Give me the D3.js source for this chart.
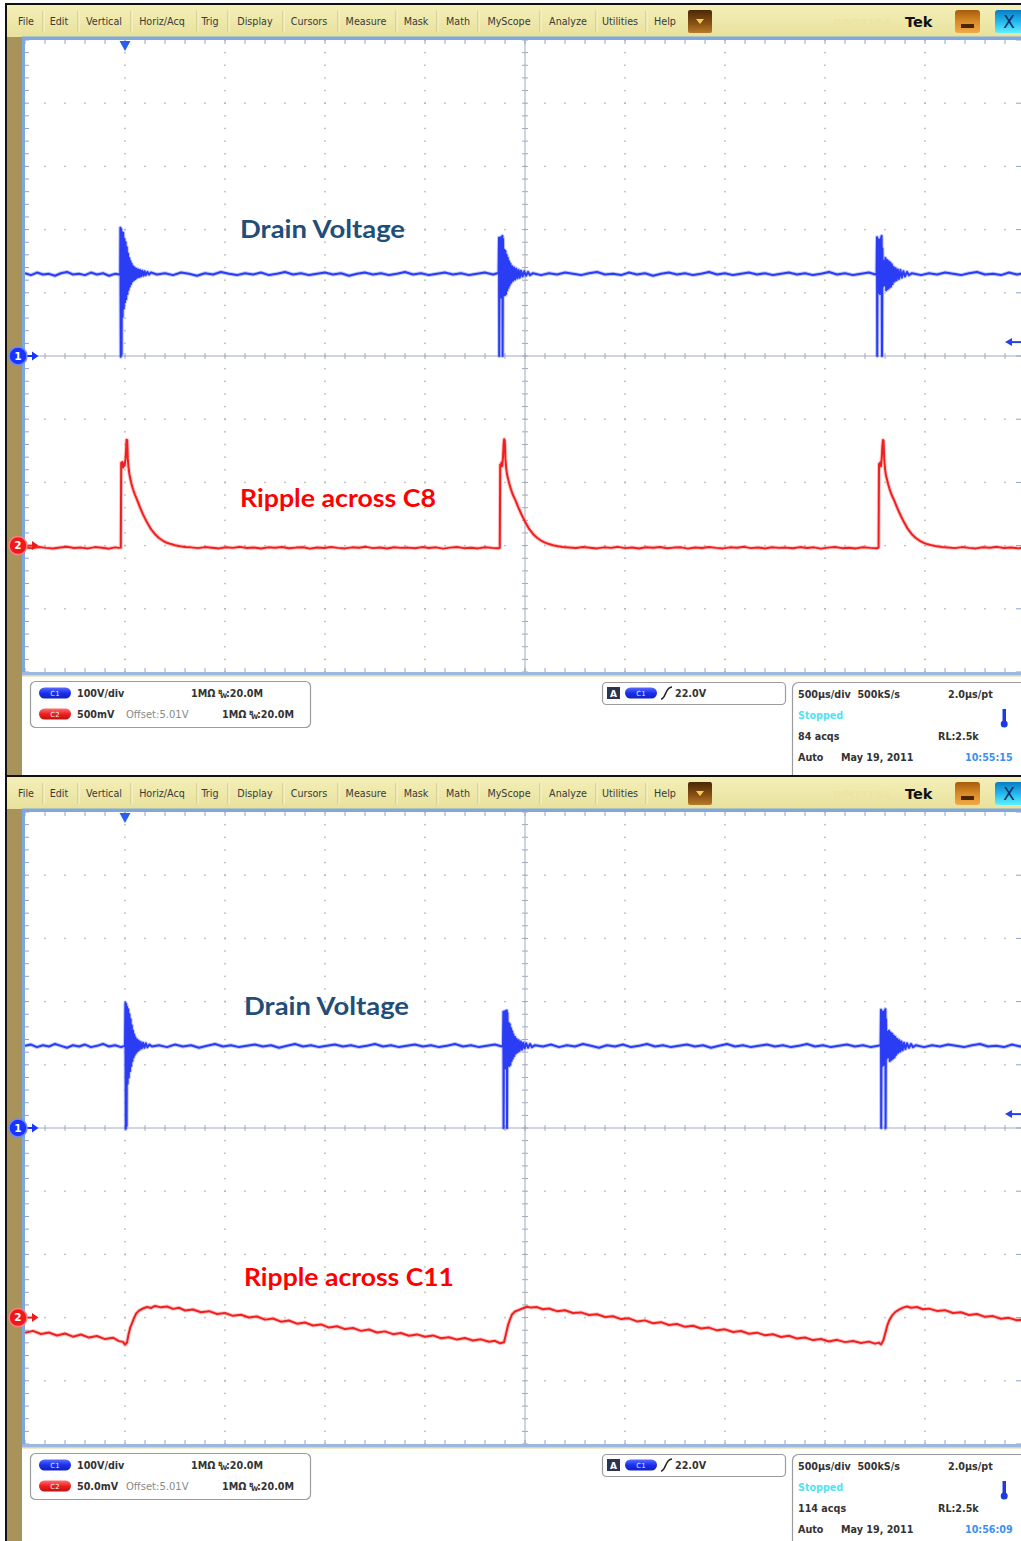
<!DOCTYPE html>
<html><head><meta charset="utf-8">
<script src="https://cdn.jsdelivr.net/npm/d3@7"></script>
<style>html,body{margin:0;padding:0;background:#fff;overflow:hidden}svg{display:block}</style>
</head><body>
<script>
// ---------------- DATA ----------------
const menuItems = ["File","Edit","Vertical","Horiz/Acq","Trig","Display","Cursors","Measure","Mask","Math","MyScope","Analyze","Utilities","Help"];
const timeDomain = [0, 5000];          // µs, 10 div x 500 µs/div
const timeMajorStep = 500, timeMinorStep = 100;
const trigLevelV = 22.0;               // trigger level, volts (C1)
const trigTimeUs = 500;                // trigger position

// Top screen, C1 drain voltage (t µs, V)
const c1Top = [[0,131],[30,128],[60,132],[90,129],[120,130],[150,127],[180,131],[210,133],[240,129],[270,130],[300,128],[330,132],[360,129],[390,131],[420,127],[450,130],[470,129],
[476,131],[477,203],[479,-1],[481,201],[483,2],[485,196],[488,62],[491,195],[494,75],[497,185],[500,85],[503,180],[506,90],[509,172],[512,98],[515,162],[518,105],[521,155],[524,110],[527,150],[530,114],[533,146],[536,118],[540,142],[544,120],[548,140],[552,122],[556,138],[560,124],[565,137],[570,125],[575,136],[580,126],[586,135],[592,127],[598,134],[604,128],[612,133],[620,129],[630,132],
[660,129],[700,131],[740,128],[780,132],[820,130],[860,127],[900,131],[940,129],[980,133],[1020,130],[1060,128],[1100,131],[1140,129],[1180,132],[1220,128],[1260,130],[1300,133],[1340,129],[1380,131],[1420,128],[1460,130],[1500,132],[1540,129],[1580,131],[1620,127],[1660,130],[1700,132],[1740,129],[1780,131],[1820,128],[1860,130],[1900,133],[1940,129],[1980,131],[2020,128],[2060,130],[2100,132],[2140,129],[2180,131],[2220,128],[2260,130],[2300,132],[2340,129],[2362,131],
[2368,131],[2370,187],[2371,0],[2373,185],[2376,95],[2379,188],[2382,92],[2385,186],[2387,190],[2388,0],[2390,185],[2393,100],[2396,168],[2399,96],[2402,166],[2405,98],[2408,160],[2411,104],[2414,155],[2417,108],[2420,150],[2423,112],[2427,146],[2431,116],[2435,142],[2440,119],[2445,140],[2450,121],[2456,138],[2462,123],[2468,136],[2474,124],[2480,135],[2488,126],[2496,134],[2505,127],[2515,133],[2525,128],[2540,131],
[2580,128],[2620,131],[2660,129],[2700,132],[2740,130],[2780,128],[2820,131],[2860,133],[2900,129],[2940,130],[2980,128],[3020,132],[3060,129],[3100,131],[3140,127],[3180,130],[3220,132],[3260,129],[3300,131],[3340,128],[3380,130],[3420,133],[3460,129],[3500,131],[3540,128],[3580,130],[3620,132],[3660,129],[3700,131],[3740,128],[3780,130],[3820,132],[3860,129],[3900,131],[3940,128],[3980,130],[4020,133],[4060,129],[4100,131],[4140,128],[4180,130],[4220,132],[4252,129],
[4258,131],[4260,188],[4261,0],[4263,186],[4267,100],[4271,184],[4275,98],[4279,185],[4283,190],[4285,0],[4287,170],[4290,110],[4294,150],[4298,112],[4302,155],[4306,104],[4310,152],[4314,106],[4318,150],[4322,108],[4326,148],[4330,110],[4334,145],[4338,114],[4343,141],[4348,118],[4353,139],[4358,120],[4364,137],[4370,122],[4377,136],[4384,124],[4392,134],[4400,126],[4410,133],[4420,128],[4435,131],
[4480,128],[4520,131],[4560,129],[4600,132],[4640,130],[4680,128],[4720,131],[4760,133],[4800,129],[4840,130],[4880,128],[4920,132],[4960,129],[5000,131]];

// Top screen, C2 ripple across C8 (t µs, mV relative to 5.01 V offset)
const c2Top = [[0,-14],[35,-20],[70,-11],[105,-18],[140,-23],[175,-15],[210,-9],[245,-19],[280,-16],[315,-22],[350,-12],[385,-17],[420,-24],[450,-14],[470,-18],[479,-16],
[481,655],[484,630],[487,662],[490,618],[494,650],[498,632],[503,690],[506,780],[508,838],[511,832],[514,690],[518,612],[522,565],[526,535],[532,492],[540,446],[550,402],[560,364],[575,302],[590,247],[610,184],[630,130],[650,90],[670,60],[690,38],[710,22],[730,12],[750,3],[775,-5],[800,-11],[830,-14],
[865,-20],[900,-12],[935,-17],[970,-22],[1005,-13],[1040,-18],[1075,-10],[1110,-19],[1145,-15],[1180,-23],[1215,-14],[1250,-17],[1285,-11],[1320,-21],[1355,-16],[1390,-13],[1425,-24],[1460,-15],[1495,-19],[1530,-12],[1565,-18],[1600,-22],[1635,-14],[1670,-17],[1705,-10],[1740,-20],[1775,-15],[1810,-23],[1845,-13],[1880,-18],[1915,-16],[1950,-21],[1985,-12],[2020,-19],[2055,-14],[2090,-24],[2125,-16],[2160,-11],[2195,-20],[2230,-17],[2265,-22],[2300,-13],[2335,-18],[2365,-21],[2374,-17],
[2376,640],[2379,622],[2382,655],[2386,630],[2390,700],[2393,800],[2396,842],[2399,830],[2402,690],[2406,612],[2410,566],[2415,530],[2422,488],[2430,444],[2440,400],[2452,360],[2466,305],[2482,248],[2500,190],[2520,134],[2540,92],[2560,62],[2580,40],[2600,24],[2620,12],[2640,3],[2665,-5],[2690,-11],[2720,-15],
[2755,-19],[2790,-12],[2825,-17],[2860,-22],[2895,-14],[2930,-18],[2965,-10],[3000,-20],[3035,-15],[3070,-23],[3105,-13],[3140,-17],[3175,-11],[3210,-21],[3245,-16],[3280,-14],[3315,-24],[3350,-15],[3385,-19],[3420,-12],[3455,-18],[3490,-22],[3525,-14],[3560,-17],[3595,-10],[3630,-20],[3665,-15],[3700,-23],[3735,-13],[3770,-18],[3805,-16],[3840,-21],[3875,-12],[3910,-19],[3945,-14],[3980,-24],[4015,-16],[4050,-11],[4085,-20],[4120,-17],[4155,-22],[4190,-13],[4225,-18],[4260,-21],[4268,-15],
[4270,645],[4273,625],[4276,658],[4280,628],[4284,700],[4287,790],[4290,836],[4293,828],[4296,688],[4300,610],[4304,563],[4309,528],[4316,486],[4324,442],[4334,398],[4346,358],[4360,302],[4376,246],[4394,188],[4414,132],[4434,90],[4454,60],[4474,38],[4494,22],[4514,10],[4534,2],[4560,-6],[4585,-11],[4615,-15],
[4650,-20],[4685,-12],[4720,-18],[4755,-22],[4790,-13],[4825,-17],[4860,-10],[4895,-19],[4930,-15],[4965,-22],[5000,-14]];

// Bottom screen, C1 drain voltage (t µs, V)
const c1Bot = [[0,130],[30,132],[60,128],[90,131],[120,129],[150,133],[180,130],[210,127],[240,131],[270,129],[300,132],[330,128],[360,130],[390,133],[420,129],[450,131],[480,128],[498,130],
[500,131],[502,198],[504,-1],[506,196],[508,3],[510,192],[513,70],[516,188],[519,80],[522,180],[525,90],[528,172],[531,98],[534,162],[537,106],[540,154],[543,112],[546,148],[549,116],[552,143],[556,119],[560,140],[564,122],[568,138],[573,124],[578,136],[584,126],[590,135],[597,127],[604,134],[612,128],[622,132],[635,129],
[670,131],[710,128],[750,132],[790,129],[830,131],[870,127],[910,130],[950,133],[990,129],[1030,131],[1070,128],[1110,130],[1150,132],[1190,129],[1230,131],[1270,127],[1310,130],[1350,133],[1390,129],[1430,131],[1470,128],[1510,130],[1550,132],[1590,129],[1630,131],[1670,128],[1710,130],[1750,133],[1790,129],[1830,131],[1870,128],[1910,130],[1950,132],[1990,129],[2030,131],[2070,128],[2110,130],[2150,133],[2190,129],[2230,131],[2270,128],[2310,130],[2350,132],[2385,129],
[2390,131],[2392,184],[2393,0],[2395,182],[2398,96],[2401,185],[2404,94],[2407,183],[2409,186],[2410,0],[2412,182],[2415,102],[2418,166],[2421,98],[2424,164],[2427,100],[2430,158],[2433,106],[2436,153],[2439,110],[2442,148],[2446,114],[2450,144],[2454,118],[2458,141],[2463,120],[2468,139],[2473,122],[2479,137],[2485,124],[2491,135],[2498,126],[2506,134],[2515,127],[2525,133],[2535,128],[2550,131],
[2590,129],[2630,132],[2670,128],[2710,131],[2750,129],[2790,133],[2830,130],[2870,127],[2910,131],[2950,129],[2990,132],[3030,128],[3070,130],[3110,133],[3150,129],[3190,131],[3230,128],[3270,130],[3310,132],[3350,129],[3390,131],[3430,127],[3470,130],[3510,133],[3550,129],[3590,131],[3630,128],[3670,130],[3710,132],[3750,129],[3790,131],[3830,128],[3870,130],[3910,133],[3950,129],[3990,131],[4030,128],[4070,130],[4110,132],[4150,129],[4190,131],[4230,128],[4265,130],
[4278,131],[4280,187],[4281,0],[4283,185],[4287,98],[4291,184],[4295,100],[4299,186],[4302,188],[4303,0],[4305,172],[4308,110],[4312,152],[4316,112],[4320,154],[4324,106],[4328,151],[4332,108],[4336,149],[4340,110],[4344,146],[4348,112],[4352,144],[4356,116],[4361,141],[4366,119],[4371,139],[4376,121],[4382,137],[4388,123],[4395,135],[4402,125],[4410,134],[4420,127],[4430,133],[4440,128],[4455,131],
[4495,128],[4535,131],[4575,129],[4615,132],[4655,130],[4695,128],[4735,131],[4775,133],[4815,129],[4855,130],[4895,128],[4935,132],[4975,129],[5000,131]];

// Bottom screen, C2 ripple across C11 (t µs, mV relative to 5.01 V offset)
const c2Bot = [[0,-12],[40,-10.5],[80,-13],[120,-11.8],[160,-14.2],[200,-12.6],[240,-15.1],[280,-13.4],[320,-15.8],[360,-14.6],[400,-17],[440,-15.9],[470,-18.6],[490,-19.2],[500,-21.5],[510,-19.8],[518,-13],[526,-8],[535,-4.5],[545,-0.5],[555,3],[570,5.5],[590,7.2],[610,8.4],[630,7.6],[650,9.2],[680,8.1],[710,8.8],[740,6.9],[770,7.8],[800,5.6],[840,6.4],[880,4.2],[920,5.1],[960,2.9],[1000,3.6],[1040,1.4],[1080,2.2],[1120,0.1],[1160,0.9],[1200,-1.6],[1240,-0.7],[1280,-3.2],[1320,-2.3],[1360,-4.8],[1400,-3.9],[1440,-6.2],[1480,-5.4],[1520,-7.9],[1560,-6.8],[1600,-9.1],[1640,-8.2],[1680,-10.5],[1720,-9.4],[1760,-11.8],[1800,-10.9],[1840,-13.1],[1880,-12.2],[1920,-14.4],[1960,-13.3],[2000,-15.2],[2040,-14.1],[2080,-16.3],[2120,-15.5],[2160,-17.4],[2200,-16.2],[2240,-18.1],[2280,-17.2],[2320,-19.1],[2350,-18.4],[2375,-20.3],[2395,-19.5],[2405,-13],[2415,-6],[2425,-1.5],[2435,2.5],[2450,4.8],[2470,6.1],[2490,7.4],[2510,8.6],[2530,7.9],[2560,8.3],[2590,6.6],[2620,7.2],[2660,5.1],[2700,5.8],[2740,3.6],[2780,4.1],[2820,2.0],[2860,2.7],[2900,0.5],[2940,1.1],[2980,-1.2],[3020,-0.6],[3060,-3.0],[3100,-2.2],[3140,-4.5],[3180,-3.6],[3220,-5.9],[3260,-5.1],[3300,-7.3],[3340,-6.4],[3380,-8.6],[3420,-7.9],[3460,-10.1],[3500,-9.3],[3540,-11.4],[3580,-10.6],[3620,-12.8],[3660,-11.9],[3700,-14.0],[3740,-13.2],[3780,-15.3],[3820,-14.4],[3860,-16.6],[3900,-15.7],[3940,-17.8],[3980,-16.9],[4020,-18.9],[4060,-17.6],[4100,-19.4],[4140,-18.5],[4180,-20.1],[4220,-19.0],[4250,-20.6],[4270,-19.8],[4280,-21.2],[4292,-18],[4302,-12],[4312,-6],[4322,-2],[4335,1.5],[4350,4.2],[4370,6.3],[4390,7.9],[4410,8.8],[4430,7.8],[4460,8.4],[4490,6.6],[4520,7.1],[4560,5.3],[4600,5.9],[4640,3.6],[4680,4.2],[4720,2.1],[4760,2.8],[4800,0.6],[4840,1.2],[4880,-0.9],[4920,-0.2],[4960,-2.1],[5000,-1.5]];

const screens = [
  {y0:5,   c1:c1Top, c2:c2Top, c1Domain:[-500,500], c2Domain:[-1000,4000],
   labelC1:"Drain Voltage", labelC2:"Ripple across C8", lx:240, l1y:238, l2y:507,
   c1Scale:"100V/div", c2Scale:"500mV", acqs:"84 acqs", time:"10:55:15"},
  {y0:777, c1:c1Bot, c2:c2Bot, c1Domain:[-500,500], c2Domain:[-100,400],
   labelC1:"Drain Voltage", labelC2:"Ripple across C11", lx:244, l1y:1015, l2y:1286,
   c1Scale:"100V/div", c2Scale:"50.0mV", acqs:"114 acqs", time:"10:56:09"}
];
const offsetText = "Offset:5.01V", impText = "1MΩ", bwText = ":20.0M";
const trigText = "22.0V";
const tbText = "500µs/div\u00a0\u00a0500kS/s", ptText = "2.0µs/pt", rlText = "RL:2.5k", stateText = "Stopped", dateText = "May 19, 2011", modeText = "Auto";

// ---------------- LAYOUT ----------------
const W = 1021, H = 1541;
const PL = 25, PT = 35, PB = 667;
const menuCenters = [26,59,104,162,210,255,309,366,416,458,509,568,620,665];
const menuSeps = [43,78,131,197,228,283,338,396,437,478,540,596,646];

const svg = d3.select("body").append("svg").attr("width", W).attr("height", H)
  .attr("viewBox", `0 0 ${W} ${H}`);
const defs = svg.append("defs");
function grad(id, stops){
  const g = defs.append("linearGradient").attr("id", id).attr("x1",0).attr("y1",0).attr("x2",0).attr("y2",1);
  stops.forEach(s=>g.append("stop").attr("offset", s[0]).attr("stop-color", s[1]));
}
grad("menuG", [[0,"#f4efb8"],[1,"#e8e19c"]]);
grad("ddG", [[0,"#4a2806"],[0.6,"#8a5214"],[1,"#b87a2a"]]);
grad("minG", [[0,"#a55c0c"],[0.5,"#d88a26"],[1,"#f0aa48"]]);
grad("clsG", [[0,"#0a7cc4"],[0.5,"#22b8ee"],[1,"#5ef0ff"]]);
grad("pillB", [[0,"#5a6cff"],[0.5,"#1a30ee"],[1,"#1020c0"]]);
grad("pillR", [[0,"#ff7070"],[0.5,"#ee2020"],[1,"#c01010"]]);
defs.append("clipPath").attr("id","plotClip").append("rect")
  .attr("x", PL).attr("y", PT).attr("width", W-PL).attr("height", PB-PT);

svg.append("rect").attr("width",W).attr("height",H).attr("fill","#fff");

const txt = (g, x, y, s, o={}) => g.append("text").attr("x",x).attr("y",y)
  .attr("font-family", o.ff || "'DejaVu Sans', sans-serif")
  .attr("font-size", o.fs || 10).attr("font-weight", o.fw || "normal")
  .attr("fill", o.fill || "#333").attr("text-anchor", o.anchor || "start").text(s);

function drawScreen(cfg){
  const g = svg.append("g").attr("transform", `translate(0,${cfg.y0})`);
  const x = d3.scaleLinear().domain(timeDomain).range([PL, PL+1000]);
  const y1 = d3.scaleLinear().domain(cfg.c1Domain).range([PB, PT]);
  const y2 = d3.scaleLinear().domain(cfg.c2Domain).range([PB, PT]);
  const c1Div = (cfg.c1Domain[1]-cfg.c1Domain[0])/10;

  // frame
  g.append("rect").attr("x",5).attr("y",-2).attr("width",W-5).attr("height",2).attr("fill","#111");
  g.append("rect").attr("x",5).attr("y",-2).attr("width",2).attr("height",775).attr("fill","#111");
  g.append("rect").attr("x",7).attr("y",0).attr("width",W-7).attr("height",32).attr("fill","url(#menuG)");
  g.append("rect").attr("x",7).attr("y",32).attr("width",15).attr("height",741).attr("fill","#a8935a");
  g.append("rect").attr("x",22).attr("y",31.5).attr("width",W-22).attr("height",3.5).attr("fill","#7fa8de");
  g.append("rect").attr("x",22).attr("y",32).attr("width",3).attr("height",PB-32+3).attr("fill","#7fa8de");
  g.append("rect").attr("x",PL).attr("y",PT).attr("width",W-PL).attr("height",PB-PT).attr("fill","#fff");
  g.append("rect").attr("x",22).attr("y",PB).attr("width",W-22).attr("height",3).attr("fill","#9bb8e0");
  g.append("rect").attr("x",22).attr("y",PB+3).attr("width",W-22).attr("height",1.5).attr("fill","#e2d596");

  // menu
  menuSeps.forEach(s=>{
    g.append("line").attr("x1",s).attr("x2",s).attr("y1",6).attr("y2",27).attr("stroke","#c9bf7c").attr("stroke-width",1);
    g.append("line").attr("x1",s+1).attr("x2",s+1).attr("y1",6).attr("y2",27).attr("stroke","#fbf8dc").attr("stroke-width",1);
  });
  menuItems.forEach((m,i)=> txt(g, menuCenters[i], 20, m, {fs:9.6, anchor:"middle", fill:"#3a3a3a"}));
  g.append("rect").attr("x",688).attr("y",5).attr("width",24).attr("height",23).attr("rx",2).attr("fill","url(#ddG)");
  g.append("path").attr("d","M696,14 L704,14 L700,19 Z").attr("fill","#f4d050");
  txt(g, 833, 22, "DPO7104", {fs:11, fw:"bold", fill:"#ebe4a3"});
  txt(g, 905, 22, "Tek", {fs:14.5, fw:"bold", fill:"#111"});
  g.append("rect").attr("x",955).attr("y",5).attr("width",25).attr("height",23).attr("rx",3).attr("fill","url(#minG)");
  g.append("rect").attr("x",961).attr("y",19).attr("width",13).attr("height",4).attr("fill","#4a2600");
  g.append("rect").attr("x",995).attr("y",5).attr("width",30).attr("height",23).attr("rx",3).attr("fill","url(#clsG)");
  txt(g, 1009, 23, "X", {fs:17, fw:"normal", fill:"#10305a", anchor:"middle"});

  // grid
  const xMaj = x.ticks(10), xMin = d3.range(timeDomain[0], timeDomain[1]+1, timeMinorStep);
  const yMaj = d3.range(cfg.c1Domain[0], cfg.c1Domain[1]+1, c1Div);
  const yMin = d3.range(cfg.c1Domain[0], cfg.c1Domain[1]+1, c1Div/5);
  const grid = g.append("g").attr("clip-path","url(#plotClip)");
  const dotC = "#b3b3b3";
  xMaj.filter(t=>t!==2500 && t>timeDomain[0] && t<timeDomain[1]).forEach(t=>{
    yMin.forEach(v=> grid.append("rect").attr("x",x(t)-0.75).attr("y",y1(v)-0.75).attr("width",1.5).attr("height",1.5).attr("fill",dotC));
  });
  yMaj.filter(v=>v!==0 && v>cfg.c1Domain[0] && v<cfg.c1Domain[1]).forEach(v=>{
    xMin.forEach(t=> grid.append("rect").attr("x",x(t)-0.75).attr("y",y1(v)-0.75).attr("width",1.5).attr("height",1.5).attr("fill",dotC));
  });
  const axC = "#a2aabd";
  grid.append("line").attr("x1",PL).attr("x2",PL+1000).attr("y1",y1(0)).attr("y2",y1(0)).attr("stroke",axC).attr("stroke-width",1);
  grid.append("line").attr("x1",x(2500)).attr("x2",x(2500)).attr("y1",PT).attr("y2",PB).attr("stroke",axC).attr("stroke-width",1);
  xMin.forEach(t=>{
    grid.append("line").attr("x1",x(t)).attr("x2",x(t)).attr("y1",y1(0)-3).attr("y2",y1(0)+3).attr("stroke",axC);
    grid.append("line").attr("x1",x(t)).attr("x2",x(t)).attr("y1",PT).attr("y2",PT+4).attr("stroke","#8ea4cc");
    grid.append("line").attr("x1",x(t)).attr("x2",x(t)).attr("y1",PB-4).attr("y2",PB).attr("stroke","#8ea4cc");
  });
  yMin.forEach(v=>{
    grid.append("line").attr("x1",x(2500)-3).attr("x2",x(2500)+3).attr("y1",y1(v)).attr("y2",y1(v)).attr("stroke",axC);
    grid.append("line").attr("x1",PL).attr("x2",PL+4).attr("y1",y1(v)).attr("y2",y1(v)).attr("stroke","#8ea4cc");
    grid.append("line").attr("x1",PL+1000-4).attr("x2",PL+1000).attr("y1",y1(v)).attr("y2",y1(v)).attr("stroke","#8ea4cc");
  });
  yMaj.forEach(v=> grid.append("line").attr("x1",PL+1000-9).attr("x2",PL+1000).attr("y1",y1(v)).attr("y2",y1(v)).attr("stroke","#8ea4cc"));

  // traces
  const tr = g.append("g").attr("clip-path","url(#plotClip)");
  const l1 = d3.line().x(d=>x(d[0])).y(d=>y1(d[1]));
  const l2 = d3.line().x(d=>x(d[0])).y(d=>y2(d[1]));
  [[l1(cfg.c1),"#2a3cf4","#6070ff"],[l2(cfg.c2),"#f02020","#ff7070"]].forEach(([p,c,h])=>{
    tr.append("path").attr("d",p).attr("fill","none").attr("stroke",h).attr("stroke-width",4).attr("stroke-opacity",0.4).attr("stroke-linejoin","round");
    tr.append("path").attr("d",p).attr("fill","none").attr("stroke",c).attr("stroke-width",2).attr("stroke-linejoin","round");
  });

  // markers
  const tx = x(trigTimeUs);
  g.append("path").attr("d",`M${tx-5.5},${PT+1} L${tx+5.5},${PT+1} L${tx},${PT+11} Z`).attr("fill","#2a5ef0");
  const ty = y1(trigLevelV);
  g.append("path").attr("d",`M1005,${ty} L1012,${ty-4} L1012,${ty+4} Z`).attr("fill","#2a40f0");
  g.append("line").attr("x1",1011).attr("x2",1021).attr("y1",ty).attr("y2",ty).attr("stroke","#2a40f0").attr("stroke-width",2);
  [[y1(0),"#1a34ff","#7088ff","1"],[y2(0),"#f01818","#ff8080","2"]].forEach(([yy,c,h,n])=>{
    g.append("line").attr("x1",26).attr("x2",33).attr("y1",yy).attr("y2",yy).attr("stroke",c).attr("stroke-width",2);
    g.append("path").attr("d",`M32,${yy-4.5} L38.5,${yy} L32,${yy+4.5} Z`).attr("fill",c);
    g.append("circle").attr("cx",18).attr("cy",yy).attr("r",9).attr("fill",c).attr("stroke",h).attr("stroke-width",1.5);
    txt(g, 18, yy+3.8, n, {fs:10.5, fw:"bold", fill:"#fff", anchor:"middle"});
  });

  // annotations
  const af = "Lato, 'Open Sans', sans-serif";
  svg.append("text").attr("x",cfg.lx).attr("y",cfg.l1y).attr("font-family",af).attr("font-weight","bold")
    .attr("font-size",25.5).attr("fill","#1f4e79").attr("textLength",165).attr("lengthAdjust","spacingAndGlyphs").text(cfg.labelC1);
  svg.append("text").attr("x",cfg.lx).attr("y",cfg.l2y).attr("font-family",af).attr("font-weight","bold")
    .attr("font-size",25.5).attr("fill","#ff0000").attr("textLength", cfg.labelC2.length>16 ? 210 : 196).attr("lengthAdjust","spacingAndGlyphs").text(cfg.labelC2);

  // info panel
  const p = g.append("g");
  p.append("rect").attr("x",30.5).attr("y",676.5).attr("width",280).attr("height",46).attr("rx",5).attr("fill","#fff").attr("stroke","#9c9c9c").attr("stroke-width",1.2);
  const rows = [[688, "url(#pillB)", "C1", cfg.c1Scale], [709, "url(#pillR)", "C2", cfg.c2Scale]];
  rows.forEach(([ry, pill, nm, sc], i)=>{
    p.append("rect").attr("x",39).attr("y",ry-5.5).attr("width",32).attr("height",11).attr("rx",5.5).attr("fill",pill);
    txt(p, 55, ry+2.5, nm, {fs:7, fill:"#e8ecff", anchor:"middle"});
    txt(p, 77, ry+3.5, sc, {fs:9.6, fw:"bold"});
    if(i===1) txt(p, 126, ry+3.5, offsetText, {fs:10, fill:"#8a8a8a"});
    const ix = i===0 ? 191 : 222;
    txt(p, ix, ry+3.5, impText, {fs:9.6, fw:"bold"});
    txt(p, ix+27, ry+0.5, "B", {fs:6, fw:"bold"});
    txt(p, ix+29, ry+5, "W", {fs:6.5, fw:"bold"});
    txt(p, ix+35, ry+3.5, bwText, {fs:9.6, fw:"bold"});
  });
  // trigger box
  p.append("rect").attr("x",602.5).attr("y",677.5).attr("width",183).attr("height",22).attr("rx",4).attr("fill","#fff").attr("stroke","#9c9c9c").attr("stroke-width",1.2);
  p.append("rect").attr("x",607).attr("y",682).attr("width",13).attr("height",12).attr("fill","#2c3450");
  txt(p, 613.5, 692, "A", {fs:9, fw:"bold", fill:"#fff", anchor:"middle"});
  p.append("rect").attr("x",625).attr("y",682.5).attr("width",32).attr("height",11).attr("rx",5.5).attr("fill","url(#pillB)");
  txt(p, 641, 691, "C1", {fs:7, fill:"#e8ecff", anchor:"middle"});
  p.append("path").attr("d","M661,694 C666,694 665,682 672,682").attr("fill","none").attr("stroke","#222").attr("stroke-width",1.6);
  txt(p, 675, 692, trigText, {fs:9.6, fw:"bold"});
  // timebase box
  p.append("rect").attr("x",792.5).attr("y",677.5).attr("width",250).attr("height",110).attr("rx",6).attr("fill","#fff").attr("stroke","#9c9c9c").attr("stroke-width",1.2);
  txt(p, 798, 692.5, tbText, {fs:9.6, fw:"bold"});
  txt(p, 948, 692.5, ptText, {fs:9.6, fw:"bold"});
  txt(p, 798, 713.5, stateText, {fs:9.6, fw:"bold", fill:"#4ee4f4"});
  p.append("rect").attr("x",1002.5).attr("y",704).attr("width",3.5).attr("height",14).attr("fill","#1f3adf");
  p.append("circle").attr("cx",1004.2).attr("cy",719).attr("r",3.5).attr("fill","#1f3adf");
  txt(p, 798, 734.5, cfg.acqs, {fs:9.6, fw:"bold"});
  txt(p, 938, 734.5, rlText, {fs:9.6, fw:"bold"});
  txt(p, 798, 755.5, modeText, {fs:9.6, fw:"bold"});
  txt(p, 841, 755.5, dateText, {fs:9.6, fw:"bold"});
  txt(p, 965, 755.5, cfg.time, {fs:9.6, fw:"bold", fill:"#3d8ef2"});
}
screens.forEach(drawScreen);
</script></body></html>
